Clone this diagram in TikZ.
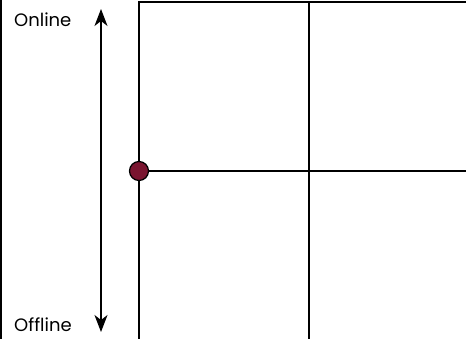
\documentclass[tikz,border=0pt]{standalone}
\usepackage{fontspec}
\setmainfont{Poppins}
\usetikzlibrary{arrows.meta}
\definecolor{maroon}{HTML}{7A1530}
\tikzset{
  gridline/.style={line width=1.3pt, black},
  lbl/.style={anchor=west, inner sep=0pt, font=\fontsize{18}{20}\selectfont},
  axisarrow/.style={line width=1.1pt, {Stealth[length=17pt,width=13pt,inset=5pt]}-{Stealth[length=17pt,width=13pt,inset=5pt]}}
}
\begin{document}
\begin{tikzpicture}[x=1pt,y=-1pt]
\useasboundingbox (0,0) rectangle (466,339);
\draw[line width=1.5pt] (0.8,0) -- (0.8,339);
\node[lbl] (on) at (14,19.5) {Online};
\node[lbl] (off) at (14,325) {Offline};
\coordinate (atop) at (101,9);
\coordinate (abot) at (101,332);
\draw[axisarrow] (abot) -- (atop);
\coordinate (tl) at (139,2);
\coordinate (tr) at (466,2);
\coordinate (bl) at (139,339);
\coordinate (mt) at (309,2);
\coordinate (mb) at (309,339);
\coordinate (ml) at (139,171);
\coordinate (mr) at (466,171);
\draw[gridline] (bl) -- (tl) -- (tr);
\draw[gridline] (mt) -- (mb);
\draw[gridline] (ml) -- (mr);
\node[circle, draw=black, line width=1.2pt, fill=maroon, minimum size=19pt, inner sep=0pt] (dot) at (ml) {};
\end{tikzpicture}
\end{document}
